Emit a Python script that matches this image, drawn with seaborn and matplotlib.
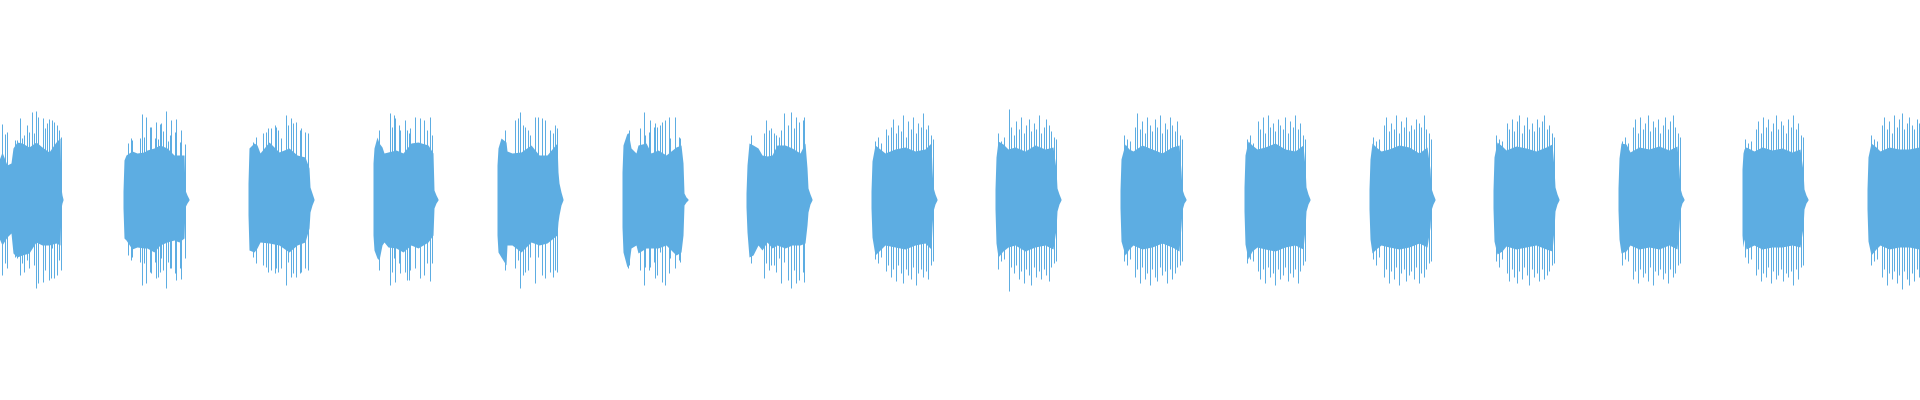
import numpy as np
import matplotlib
matplotlib.use("Agg")
import matplotlib.pyplot as plt
import seaborn as sns

# waveform of 16 repeated bursts, amplitudes in px above / below the centre line
burst_start = [-1, 123, 248, 372, 497, 622, 746, 871, 995, 1120, 1244, 1369, 1493, 1618, 1742, 1867]

# solid body of each burst: outline points (offset from burst start, top, bottom)
core_x = [
    [0, 3, 8, 12, 14, 18, 23, 30, 37, 43, 50, 57, 61, 62, 63, 64],
    [0, 1, 3, 9, 14, 21, 24, 31, 37, 44, 51, 56, 61, 62, 64, 66],
    [0, 1, 6, 9, 12, 21, 31, 41, 49, 57, 61, 62, 64, 66],
    [1, 2, 5, 7, 10, 12, 16, 24, 31, 39, 46, 56, 61, 62, 64, 66],
    [0, 1, 4, 9, 10, 15, 24, 34, 42, 50, 60, 61, 62, 64, 66],
    [0, 1, 5, 7, 9, 14, 16, 24, 29, 36, 44, 54, 59, 61, 62, 64, 66],
    [0, 1, 3, 7, 12, 16, 21, 26, 31, 39, 46, 54, 59, 61, 62, 64, 66],
    [0, 1, 4, 14, 24, 34, 44, 54, 60, 61, 62, 64, 66],
    [0, 1, 3, 8, 13, 20, 30, 40, 50, 58, 61, 62, 64, 66],
    [0, 1, 5, 9, 13, 22, 32, 42, 52, 59, 61, 62, 64, 66],
    [0, 1, 4, 8, 13, 21, 31, 41, 51, 59, 61, 62, 64, 66],
    [0, 1, 3, 7, 12, 20, 30, 40, 50, 58, 61, 62, 64, 66],
    [0, 1, 4, 9, 13, 23, 33, 43, 53, 59, 61, 62, 64, 66],
    [0, 1, 3, 8, 12, 21, 31, 41, 51, 59, 61, 62, 64, 66],
    [0, 1, 2, 4, 12, 20, 30, 40, 50, 58, 61, 62, 64, 66],
    [0, 1, 4, 9, 13, 22, 32, 42, 52, 58],
]
core_top = [
    [39, 47, 34, 36, 51, 57, 56, 52, 57, 52, 47, 57, 61, 11, 4, 0],
    [8, 39, 44, 48, 46, 47, 49, 51, 54, 51, 44, 44, 44, 9, 4, 0],
    [16, 51, 56, 54, 46, 57, 47, 51, 44, 42, 31, 12, 6, 0],
    [36, 51, 62, 56, 52, 46, 47, 49, 46, 56, 57, 54, 46, 9, 4, 0],
    [34, 51, 61, 57, 48, 46, 47, 54, 44, 44, 56, 27, 16, 7, 0],
    [27, 54, 66, 62, 51, 46, 54, 56, 46, 49, 44, 52, 54, 36, 6, 2, 0],
    [6, 34, 56, 54, 51, 44, 43, 44, 54, 54, 51, 46, 56, 31, 11, 5, 0],
    [8, 38, 54, 46, 50, 52, 48, 50, 56, 30, 12, 5, 0],
    [10, 42, 58, 55, 50, 52, 48, 54, 50, 52, 30, 11, 5, 0],
    [9, 40, 55, 50, 48, 54, 50, 46, 52, 54, 28, 10, 4, 0],
    [12, 44, 58, 54, 50, 52, 56, 50, 48, 54, 32, 12, 5, 0],
    [10, 40, 56, 52, 48, 50, 54, 52, 46, 52, 30, 11, 5, 0],
    [9, 42, 57, 53, 49, 53, 51, 48, 52, 55, 31, 12, 5, 0],
    [11, 41, 56, 55, 47, 52, 50, 53, 49, 53, 29, 11, 4, 0],
    [30, 46, 50, 52, 48, 52, 49, 51, 47, 50, 28, 10, 4, 0],
    [10, 42, 56, 52, 48, 52, 50, 50, 52, 50],
]
core_bot = [
    [39, 46, 38, 34, 54, 58, 56, 54, 43, 46, 46, 44, 46, 9, 4, 1],
    [9, 39, 41, 50, 48, 49, 49, 53, 46, 43, 41, 43, 39, 8, 4, 1],
    [16, 51, 53, 49, 43, 44, 46, 53, 46, 43, 29, 13, 6, 1],
    [36, 51, 59, 61, 46, 43, 48, 49, 53, 46, 49, 43, 36, 9, 4, 1],
    [36, 53, 58, 66, 46, 46, 53, 43, 46, 44, 36, 23, 16, 6, 1],
    [28, 53, 68, 64, 49, 46, 54, 49, 49, 49, 46, 56, 53, 36, 6, 3, 1],
    [8, 33, 58, 56, 46, 51, 43, 49, 46, 49, 46, 46, 44, 26, 13, 5, 1],
    [9, 38, 56, 46, 48, 50, 46, 44, 50, 28, 12, 5, 1],
    [10, 44, 58, 52, 48, 46, 52, 48, 46, 50, 30, 12, 5, 1],
    [9, 42, 56, 50, 46, 50, 48, 44, 48, 52, 27, 11, 4, 1],
    [12, 45, 60, 52, 48, 50, 52, 48, 46, 50, 30, 12, 5, 1],
    [10, 40, 54, 50, 46, 48, 50, 48, 44, 48, 28, 11, 5, 1],
    [9, 42, 55, 52, 47, 50, 48, 46, 50, 52, 30, 12, 5, 1],
    [11, 40, 54, 52, 46, 50, 48, 50, 46, 50, 28, 11, 4, 1],
    [36, 48, 40, 50, 46, 50, 48, 48, 46, 48, 28, 10, 4, 1],
    [10, 42, 56, 50, 46, 50, 48, 48, 50, 48],
]

# thin peaks standing out of the body: offset, height above, depth below
spike_x = [
    [2, 5, 7, 13, 15, 17, 20, 22, 24, 27, 29, 32, 34, 36, 38, 41, 43, 45, 47, 49, 51, 52, 54, 57, 59, 61],
    [4, 7, 8, 16, 18, 20, 22, 26, 27, 31, 32, 34, 36, 37, 39, 42, 44, 46, 47, 51, 52, 56, 57, 61],
    [4, 7, 14, 17, 19, 22, 26, 27, 29, 32, 37, 39, 42, 44, 47, 51, 52, 56, 59],
    [6, 17, 19, 21, 22, 26, 27, 32, 34, 36, 37, 42, 47, 51, 54, 57, 59],
    [7, 17, 20, 22, 25, 27, 30, 32, 37, 40, 44, 47, 52, 55, 57, 59],
    [5, 6, 17, 21, 22, 26, 27, 31, 32, 34, 37, 39, 42, 46, 47, 52, 56, 57],
    [4, 17, 19, 22, 24, 27, 29, 32, 34, 37, 41, 44, 47, 49, 52, 56, 57],
    [3, 6, 9, 14, 16, 19, 21, 24, 26, 29, 31, 34, 36, 39, 41, 44, 46, 49, 51, 54, 56, 59, 61],
    [2, 5, 8, 13, 15, 18, 20, 23, 25, 28, 30, 33, 35, 38, 40, 43, 45, 48, 50, 53, 55, 58, 60],
    [3, 6, 9, 14, 16, 19, 21, 24, 26, 29, 31, 34, 36, 39, 41, 44, 46, 49, 51, 54, 56, 59, 61],
    [2, 5, 8, 13, 15, 18, 20, 23, 25, 28, 30, 33, 35, 38, 40, 43, 45, 48, 50, 53, 55, 58, 60],
    [3, 6, 9, 14, 16, 19, 21, 24, 26, 29, 31, 34, 36, 39, 41, 44, 46, 49, 51, 54, 56, 59, 61],
    [2, 5, 8, 13, 15, 18, 20, 23, 25, 28, 30, 33, 35, 38, 40, 43, 45, 48, 50, 53, 55, 58, 60],
    [3, 6, 9, 14, 16, 19, 21, 24, 26, 29, 31, 34, 36, 39, 41, 44, 46, 49, 51, 54, 56, 59, 61],
    [2, 5, 8, 13, 15, 18, 20, 23, 25, 28, 30, 33, 35, 38, 40, 43, 45, 48, 50, 53, 55, 58, 60],
    [3, 6, 9, 14, 16, 19, 21, 24, 26, 29, 31, 34, 36, 39, 41, 44, 46, 49, 51, 54],
]
spike_top = [
    [75, 65, 67, 44, 59, 59, 81, 61, 64, 74, 67, 87, 66, 88, 82, 44, 81, 71, 76, 80, 29, 79, 77, 74, 69, 62],
    [56, 61, 59, 61, 85, 62, 82, 72, 72, 61, 77, 60, 75, 76, 68, 88, 58, 64, 79, 67, 80, 57, 69, 55],
    [57, 62, 66, 67, 71, 71, 74, 72, 69, 61, 84, 74, 81, 76, 77, 69, 71, 67, 66],
    [69, 86, 72, 84, 81, 74, 69, 79, 69, 66, 71, 82, 81, 79, 69, 82, 64],
    [69, 79, 81, 87, 74, 72, 69, 64, 82, 82, 81, 79, 69, 66, 74, 71],
    [66, 69, 71, 87, 64, 67, 79, 72, 76, 72, 74, 77, 79, 82, 61, 82, 62, 61],
    [64, 66, 79, 69, 71, 66, 64, 62, 69, 86, 74, 87, 71, 82, 77, 79, 82],
    [58, 62, 56, 70, 64, 72, 80, 66, 74, 68, 84, 62, 78, 70, 82, 66, 76, 72, 86, 70, 74, 64, 60],
    [66, 58, 62, 90, 72, 64, 78, 70, 82, 66, 74, 80, 68, 76, 70, 84, 66, 72, 80, 74, 68, 62, 60],
    [64, 60, 58, 72, 86, 70, 78, 66, 82, 74, 68, 80, 72, 84, 66, 76, 70, 82, 74, 68, 78, 64, 60],
    [60, 64, 56, 78, 70, 82, 66, 84, 72, 76, 68, 80, 74, 70, 82, 66, 78, 72, 84, 70, 76, 64, 60],
    [62, 58, 60, 74, 82, 68, 76, 70, 84, 66, 78, 72, 82, 68, 74, 70, 80, 76, 72, 84, 70, 66, 60],
    [64, 60, 58, 76, 70, 80, 68, 78, 84, 66, 74, 82, 70, 76, 68, 80, 72, 78, 84, 70, 74, 66, 62],
    [58, 62, 56, 72, 80, 66, 82, 70, 76, 84, 68, 78, 72, 80, 66, 74, 82, 70, 78, 84, 72, 66, 62],
    [60, 56, 58, 70, 78, 66, 82, 72, 80, 68, 76, 84, 70, 78, 74, 66, 80, 72, 84, 70, 76, 64, 62],
    [64, 60, 58, 74, 82, 70, 78, 66, 84, 72, 80, 86, 70, 76, 82, 74, 70, 80, 76, 72],
]
spike_bot = [
    [76, 64, 69, 38, 58, 59, 76, 64, 73, 61, 69, 46, 66, 89, 84, 44, 83, 71, 43, 81, 79, 49, 79, 76, 61, 71],
    [56, 61, 58, 63, 86, 64, 84, 73, 74, 63, 79, 78, 73, 59, 71, 89, 63, 69, 69, 74, 81, 69, 80, 59],
    [58, 64, 66, 68, 73, 71, 74, 69, 73, 69, 86, 63, 78, 74, 78, 74, 73, 69, 71],
    [71, 86, 73, 59, 83, 64, 74, 73, 81, 81, 71, 69, 79, 76, 64, 82, 64],
    [71, 69, 61, 89, 76, 73, 71, 58, 84, 58, 76, 79, 73, 78, 71, 73],
    [69, 66, 71, 86, 68, 71, 68, 63, 79, 76, 53, 83, 86, 74, 59, 69, 61, 63],
    [64, 79, 64, 71, 66, 66, 73, 59, 84, 63, 81, 89, 71, 84, 81, 73, 83],
    [60, 64, 58, 72, 66, 78, 70, 82, 66, 74, 84, 70, 76, 80, 68, 86, 74, 70, 78, 72, 80, 66, 62],
    [70, 62, 60, 92, 68, 74, 66, 80, 72, 84, 70, 76, 86, 68, 78, 72, 80, 70, 76, 82, 68, 64, 62],
    [62, 66, 60, 78, 70, 84, 68, 80, 74, 86, 70, 78, 82, 68, 76, 72, 84, 70, 80, 74, 68, 66, 62],
    [64, 60, 62, 72, 80, 70, 84, 68, 78, 74, 86, 70, 80, 76, 68, 82, 74, 78, 70, 84, 72, 66, 62],
    [60, 66, 58, 78, 70, 84, 72, 80, 68, 86, 74, 70, 82, 76, 72, 80, 68, 84, 74, 78, 70, 64, 62],
    [62, 68, 60, 74, 82, 70, 78, 84, 72, 80, 68, 76, 86, 70, 78, 74, 82, 70, 80, 76, 72, 66, 64],
    [66, 60, 62, 80, 72, 84, 70, 78, 74, 82, 68, 86, 72, 76, 70, 80, 74, 84, 70, 78, 74, 66, 64],
    [58, 64, 60, 76, 70, 82, 74, 78, 68, 84, 72, 80, 76, 70, 82, 74, 78, 72, 86, 70, 80, 68, 66],
    [66, 62, 60, 78, 70, 86, 74, 80, 72, 84, 76, 90, 72, 80, 86, 74, 82, 70, 78, 84],
]

wave_color = "#5dade2"

sns.set_style("white")
fig = plt.figure(figsize=(19.2, 4), dpi=100)
ax = fig.add_axes([0, 0, 1, 1])

for i, x0 in enumerate(burst_start):
    cx = np.array(core_x[i]) + x0
    ax.fill_between(cx, -np.array(core_bot[i]), np.array(core_top[i]),
                    color=wave_color, linewidth=0)
    sx = np.array(spike_x[i]) + x0
    # one-pixel columns centred on pixel centres
    ax.vlines(sx + 0.5, -np.array(spike_bot[i]), np.array(spike_top[i]),
              color=wave_color, linewidth=0.72)

ax.set_xlim(0, 1920)
ax.set_ylim(-201, 199)
ax.axis("off")

fig.savefig("out.png", dpi=100, facecolor="white")
